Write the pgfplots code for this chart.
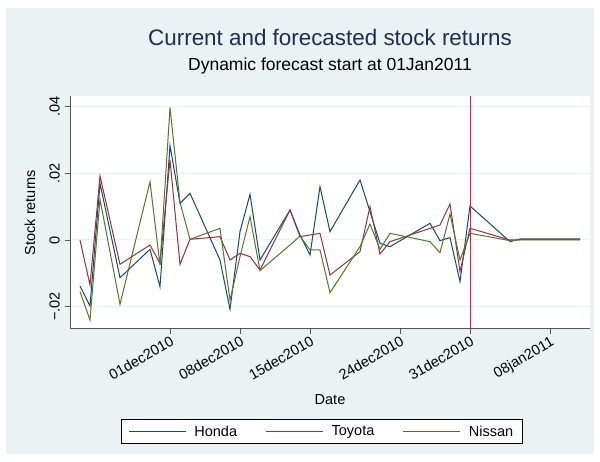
\documentclass[border=0pt]{standalone}
\usepackage{fontspec}
\setmainfont{Liberation Sans}
\usepackage{pgfplots}
\usepackage{pgfplotstable}
\pgfplotsset{compat=1.18}
\definecolor{bgblue}{RGB}{234,242,243}
\definecolor{snavy}{RGB}{26,71,111}
\definecolor{smaroon}{RGB}{144,53,59}
\definecolor{sgreen}{RGB}{85,117,47}
\definecolor{vred}{RGB}{226,26,72}
\definecolor{titlenavy}{RGB}{30,45,83}
\definecolor{axgray}{RGB}{85,85,85}

\pgfplotstableread{
d honda toyota nissan
-9 -0.0138 0 -0.0155
-8 -0.0198 -0.0135 -0.024
-7 0.017 0.0192 0.0122
-5 -0.0113 -0.0073 -0.0193
-2 -0.0028 -0.0015 0.0175
-1 -0.014 -0.007 -0.0075
0 0.0283 0.024 0.0397
1 0.011 -0.0073 0.0113
2 0.014 0.0002 0.0002
5 -0.006 0.001 0.0035
6 -0.0208 -0.006 -0.018
7 0.0025 -0.004 -0.005
8 0.0137 -0.005 0.007
9 -0.006 -0.009 -0.0092
12 0.009 0.009 -0.0015
13 0.0015 0.001 0.0012
14 -0.0045 0.0015 -0.003
15 0.016 0.002 -0.003
16 0.0025 -0.0105 -0.0158
19 0.018 -0.0035 -0.002
20 0.0085 0.010 0.0048
21 -0.001 -0.0042 -0.0028
22 -0.002 -0.0005 0.002
26 0.005 0.0035 -0.0005
27 -0.0002 0.0045 -0.0038
28 0.0007 0.0108 0.0078
29 -0.0125 -0.0095 -0.006
30 0.0102 0.0035 0.002
34 -0.0005 0.0 -0.0002
35 0.0003 0.0001 0.0
36 0.0003 0.0001 0.0
37 0.0003 0.0001 0.0
40 0.0003 0.0001 0.0
41 0.0003 0.0001 0.0
}\returns

\begin{document}
\begin{tikzpicture}[x=1pt,y=1pt]
\useasboundingbox (0,0) rectangle (600,462);
\fill[white] (0,0) rectangle (600,462);
\fill[bgblue] (6,8) rectangle (594,454);
\node[text=titlenavy, font=\fontsize{22.4}{26}\selectfont] at (330,424) {Current and forecasted stock returns};
\node[text=black, font=\fontsize{17.5}{20}\selectfont] at (330,396) {Dynamic forecast start at 01Jan2011};
\node[font=\fontsize{14.5}{17}\selectfont, rotate=90] at (30,249.5) {Stock returns};
\node[font=\fontsize{14.5}{17}\selectfont] at (330,62) {Date};
\begin{axis}[
  at={(70pt,133pt)}, anchor=south west,
  scale only axis, width=520pt, height=233pt,
  xmin=-10, xmax=42, ymin=-0.0267, ymax=0.0432,
  scaled y ticks=false, scaled x ticks=false,
  axis background/.style={fill=white},
  axis x line*=bottom, axis y line*=left,
  axis line style={draw=axgray, line width=1pt},
  tick align=outside, major tick length=5pt,
  tick style={draw=axgray, line width=0.8pt},
  ytick={-0.02,0,0.02,0.04},
  yticklabels={−.02,0,.02,.04},
  yticklabel style={xshift=-5pt, rotate=90, anchor=south, inner sep=0pt, font=\fontsize{14.5}{17}\selectfont},
  xtick={0,7,14,23,30,38},
  xticklabels={01dec2010,08dec2010,15dec2010,24dec2010,31dec2010,08jan2011},
  xticklabel style={rotate=30, anchor=north east, inner sep=1pt, font=\fontsize{14.5}{17}\selectfont},
  ymajorgrids, xmajorgrids=false,
  grid style={draw=bgblue, line width=1pt},
  legend style={at={(0.4837,-0.44)}, anchor=center, fill=white, draw=black,
    line width=0.6pt, font=\fontsize{14.5}{17}\selectfont,
    /tikz/every odd column/.style={column sep=6pt},
    /tikz/every even column/.style={column sep=26pt},
    inner ysep=4pt, inner xsep=7pt},
  legend columns=3,
  clip=false,
]
\addplot[draw=snavy, line width=1pt, forget plot] table[x=d, y=honda] {\returns};
\addplot[draw=smaroon, line width=1pt, forget plot] table[x=d, y=toyota] {\returns};
\addplot[draw=sgreen, line width=1pt, forget plot] table[x=d, y=nissan] {\returns};
\addplot[draw=vred, line width=1pt, forget plot] coordinates {(30,-0.0267) (30,0.0432)};
\addlegendimage{legend image code/.code={\path[draw=snavy, line width=1.5pt] (0pt,0pt) -- (57pt,0pt);}}
\addlegendentry{Honda}
\addlegendimage{legend image code/.code={\path[draw=smaroon, line width=1.5pt] (0pt,0pt) -- (57pt,0pt);}}
\addlegendentry{Toyota}
\addlegendimage{legend image code/.code={\path[draw=sgreen, line width=1.5pt] (0pt,0pt) -- (57pt,0pt);}}
\addlegendentry{Nissan}
\end{axis}
\end{tikzpicture}
\end{document}
